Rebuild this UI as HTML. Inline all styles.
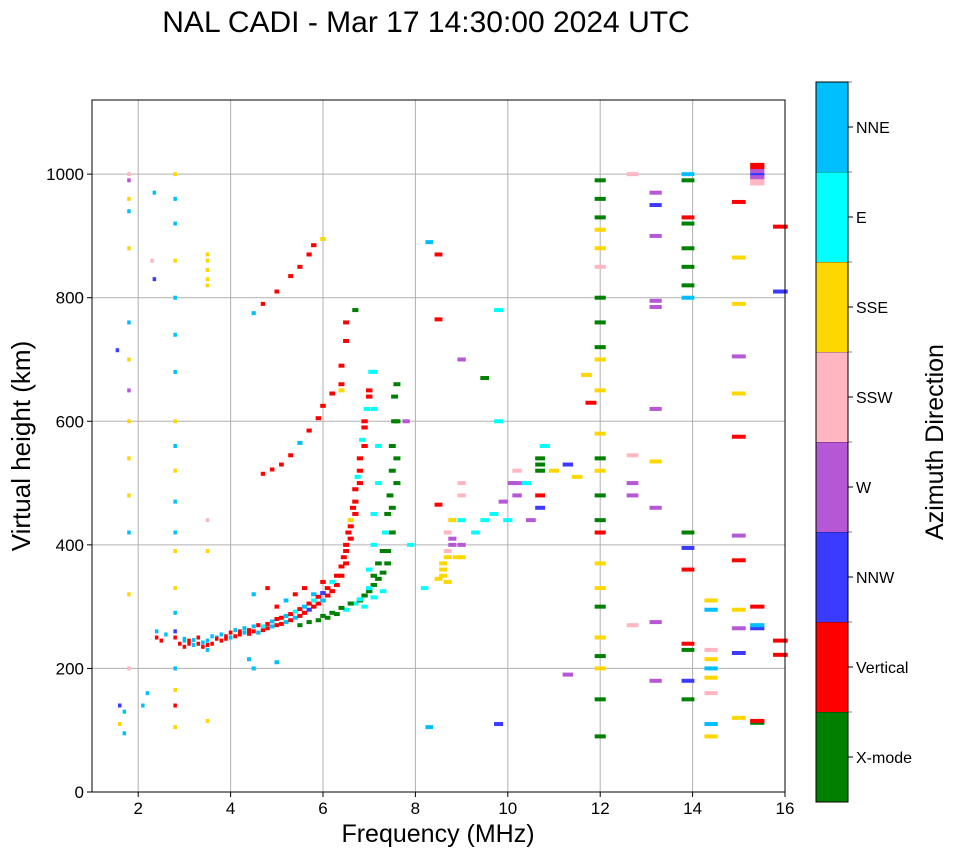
<!DOCTYPE html>
<html><head><meta charset="utf-8"><style>
body{margin:0;background:#fff;font-family:"Liberation Sans",sans-serif}
svg text{font-family:"Liberation Sans",sans-serif}
</style></head><body>
<svg id="c" width="958" height="857" xmlns="http://www.w3.org/2000/svg">
<text x="426" y="32" font-size="30" text-anchor="middle">NAL CADI - Mar 17 14:30:00 2024 UTC</text>
<g id="grid"></g><g id="marks"></g><g id="axes"></g><g id="cbar"></g>
<text x="438" y="842" font-size="25" text-anchor="middle">Frequency (MHz)</text>
<text transform="translate(30,446) rotate(-90)" font-size="26" text-anchor="middle">Virtual height (km)</text>
<text transform="translate(943,442) rotate(-90)" font-size="25" text-anchor="middle">Azimuth Direction</text>
</svg>
<script>
const dirNames=["X-mode","Vertical","NNW","W","SSW","SSE","E","NNE"];
const dirColors=["#008000","#ff0000","#3b3bff","#b657d6","#ffb6c1","#ffd700","#00ffff","#00bfff"];
const xTicks=[2,4,6,8,10,12,14,16];
const yTicks=[0,200,400,600,800,1000];
const freqs=[2.4,2.4,2.5,2.6,2.8,2.9,3.0,3.0,3.1,3.2,3.3,3.4,3.5,3.6,3.7,3.8,3.9,4.0,4.1,4.2,4.3,4.4,4.5,4.6,4.7,4.8,4.9,5.0,5.1,5.2,5.3,5.4,5.5,5.6,5.7,5.8,5.9,6.0,6.1,6.2,6.3,6.4,6.5,6.5,6.6,6.6,6.7,6.7,6.8,6.8,6.9,6.9,7.0,
4.5,4.8,5.0,5.2,5.4,5.6,5.8,6.0,4.4,4.5,5.0,3.5,
5.5,5.7,5.9,6.1,6.3,6.5,6.7,6.8,6.9,7.0,7.1,7.2,7.3,7.4,7.4,7.5,7.5,7.6,7.6,7.6,7.6,
6.9,7.1,7.3,7.0,7.1,7.1,7.2,7.2,7.1,7.1,
4.7,4.9,5.1,5.3,5.5,5.7,5.9,6.0,6.2,6.4,6.4,6.5,6.5,6.7,6.4,
4.5,4.7,5.0,5.3,5.5,5.7,5.8,6.0,
7.9,8.2,8.5,8.6,8.7,8.7,8.8,8.9,9.0,9.0,9.0,9.3,9.5,9.7,9.9,10.0,10.1,10.2,10.4,10.7,10.7,10.8,11.0,11.3,11.5,9.8,9.8,10.5,
12,12,12,12,12,12,12,12,12,12,12,12,12,12,12,12,12,12,12,12,12,12,12,12,12,
13.2,13.2,13.2,13.2,13.2,13.2,13.2,13.2,13.2,13.2,
12.7,12.7,12.7,12.7,12.7,
13.9,13.9,13.9,13.9,13.9,13.9,13.9,13.9,13.9,13.9,13.9,13.9,13.9,13.9,13.9,
14.4,14.4,14.4,14.4,14.4,14.4,14.4,14.4,14.4,
15.0,15.0,15.0,15.0,15.0,15.0,15.0,15.0,15.0,15.0,15.0,15.0,
15.4,15.4,15.4,15.4,15.4,15.4,15.4,15.4,15.4,
15.9,15.9,15.9,15.9,
1.7,1.6,1.7,1.6,1.8,1.8,1.8,1.8,1.8,1.8,1.8,1.8,1.8,1.8,1.8,1.8,1.8,1.8,1.55,
2.8,2.8,2.8,2.8,2.8,2.8,2.8,2.8,2.8,2.8,2.8,2.8,2.8,2.8,2.8,2.8,2.8,2.8,2.8,2.8,
3.5,3.5,3.5,3.5,3.5,3.5,3.5,3.5,
2.1,2.2,2.3,2.35,2.35,8.3,8.5,8.5,8.5,8.3,9.8,9.5,9.0,7.8,11.8,11.7,11.3,
3.0,3.1,3.2,3.3,3.4,3.5,3.6,3.7,3.8,3.9,4.0,4.1,4.2,4.3,4.4,4.5,4.6,4.7,4.8,4.9,5.0,5.1,5.2,5.3,5.4,5.5,5.6,5.7,5.8,5.9,6.0,6.1,6.2,6.3,6.4,
6.45,6.5,6.55,6.6,6.65,6.7,6.75,6.8,6.85,6.9,6.95,7.0,7.05,
6.0,6.2,6.4,6.6,6.8,7.0,7.1,7.2,7.3,7.35,7.4,7.45,7.5,7.5,7.55,7.55,
8.6,8.6,8.7,8.7,8.8,8.8,9.0,9.0,10.7,10.7,10.7,10.2,10.2,15.4,15.4,15.4];
const heights=[250,260,245,255,250,240,235,245,240,238,240,235,245,240,250,245,248,250,252,255,258,256,260,258,262,265,268,270,272,275,278,282,285,290,295,300,305,310,318,325,335,350,370,390,410,430,450,470,500,520,560,600,640,
320,330,300,310,320,330,320,340,215,200,210,230,
270,275,278,282,288,295,305,310,318,325,335,345,355,370,390,420,460,500,540,600,660,
300,315,325,360,400,450,500,560,620,680,
515,522,530,545,565,585,605,625,645,660,690,730,760,780,650,
775,790,810,835,850,870,885,895,
400,330,345,360,380,420,400,380,480,500,440,420,440,450,470,440,500,520,500,480,530,560,520,530,510,600,780,440,
90,150,200,220,250,300,330,370,420,440,480,520,540,580,650,700,720,760,800,850,880,910,930,960,990,
180,275,460,535,620,785,795,900,950,970,
270,480,500,545,1000,
150,180,230,240,360,395,420,800,820,850,880,920,930,990,1000,
90,110,160,185,200,215,230,295,310,
120,225,265,295,375,415,575,645,705,790,865,955,
112,115,265,270,300,990,1000,1010,1005,
222,245,810,915,
95,110,130,140,200,320,420,480,540,600,650,700,760,880,940,960,990,1000,715,
105,140,165,200,260,290,330,390,420,470,520,560,600,680,740,800,860,920,960,1000,
820,830,845,860,870,440,390,115,
140,160,860,830,970,890,870,765,465,105,110,670,700,600,630,675,190,
248,245,246,250,242,238,252,248,255,252,258,262,260,265,262,268,270,268,272,276,280,282,285,288,292,296,300,305,310,316,322,330,340,350,365,
380,400,420,440,460,490,510,540,570,590,620,650,680,
285,290,298,305,312,330,350,370,390,420,450,480,520,560,600,640,
350,370,390,340,410,440,380,400,520,540,460,480,500,1015,995,985];
const dirs=[1,7,1,7,1,1,1,7,1,7,1,1,7,1,7,1,1,7,1,1,7,1,1,7,1,1,7,1,1,7,1,7,1,1,2,1,1,7,1,1,1,1,1,1,1,1,1,1,1,1,1,1,1,
7,1,1,7,1,1,7,1,7,7,7,7,
0,0,0,0,0,6,6,0,0,0,0,0,0,0,0,0,0,0,0,0,0,
6,6,6,6,6,6,6,6,6,6,
1,1,1,1,7,1,1,1,1,1,1,1,1,0,5,
7,1,1,1,1,1,1,5,
6,6,5,5,5,4,3,5,4,4,6,6,6,6,3,6,3,4,6,1,0,6,5,2,5,6,6,3,
0,0,5,0,5,0,5,5,1,0,0,5,0,5,5,5,0,0,0,4,5,5,0,0,0,
3,3,3,5,3,3,3,3,2,3,
4,3,3,4,4,
0,2,0,1,1,2,0,7,0,0,0,0,1,0,7,
5,7,4,5,7,5,4,7,5,
5,2,3,5,1,3,1,5,3,5,5,1,
0,1,2,7,1,4,2,1,3,
1,1,2,1,
7,5,7,2,4,5,7,5,5,5,3,5,7,5,7,5,3,4,2,
5,1,5,7,2,7,5,5,7,7,5,7,5,7,7,7,5,7,7,5,
5,5,5,5,5,4,5,5,
7,7,4,2,7,7,1,1,1,7,2,0,3,3,1,5,3,
7,1,7,1,7,1,7,1,7,1,1,7,1,7,1,7,1,6,1,7,1,1,7,1,6,1,7,1,6,1,2,1,6,1,1,
1,1,1,5,1,1,6,1,6,1,6,1,6,
0,0,0,0,6,6,0,0,0,6,0,0,0,0,0,0,
5,5,4,5,3,5,5,3,0,0,2,3,3,1,3,4];
const NS="http://www.w3.org/2000/svg";
const L=92,R=785,T=100,B=792;
const xs=f=>L+(f-1)/15*(R-L);
const ys=h=>B-h/1120*(B-T);
function mk(tag,attrs,parent){const e=document.createElementNS(NS,tag);for(const k in attrs)e.setAttribute(k,attrs[k]);parent.appendChild(e);return e;}
const grid=document.getElementById('grid'),axes=document.getElementById('axes'),marks=document.getElementById('marks'),cb=document.getElementById('cbar');
xTicks.forEach(t=>{const x=xs(t);
 if(t<16){const g=mk('line',{x1:x,x2:x,y1:T,y2:B,stroke:'#b0b0b0','stroke-width':1},grid);}
 mk('line',{x1:x,x2:x,y1:B,y2:B+5,stroke:'#000'},axes);
 const tx=mk('text',{x:x,y:B+22,'font-size':17,'text-anchor':'middle'},axes);tx.textContent=t;
 });
yTicks.forEach(t=>{const y=ys(t);
 if(t>0){const g=mk('line',{x1:L,x2:R,y1:y,y2:y,stroke:'#b0b0b0','stroke-width':1},grid);}
 mk('line',{x1:L-5,x2:L,y1:y,y2:y,stroke:'#000'},axes);
 const tx=mk('text',{x:L-8,y:y+6,'font-size':17,'text-anchor':'end'},axes);tx.textContent=t;
 });
const fr=mk('rect',{x:L,y:T,width:R-L,height:B-T,fill:'none',stroke:'#000','stroke-width':1},axes);

for(let i=0;i<freqs.length;i++){
 const f=freqs[i],w=Math.max(3.5,(xs(f*1.01)-xs(f*0.99)));
 const r=mk('rect',{x:xs(f)-w/2,y:ys(heights[i])-2,width:w,height:4,fill:dirColors[dirs[i]]},marks);
 
 
}
const cT=82,cB=802,cL=816,cW=32,seg=(cB-cT)/8;
for(let i=0;i<8;i++){const y=cB-(i+1)*seg;
 const r=mk('rect',{x:cL,y:y,width:cW,height:seg,fill:dirColors[i]},cb);
 
 mk('line',{x1:cL+cW,x2:cL+cW+5,y1:y+seg/2,y2:y+seg/2,stroke:'#000'},cb);
 mk('line',{x1:cL,x2:cL+cW+4,y1:y,y2:y,stroke:'#000','stroke-width':0.6},cb);
 const t=mk('text',{x:cL+cW+8,y:y+seg/2+6,'font-size':16},cb);t.textContent=dirNames[i];
 }
mk('rect',{x:cL,y:cT,width:cW,height:cB-cT,fill:'none',stroke:'#000'},cb);
</script>
</body></html>
